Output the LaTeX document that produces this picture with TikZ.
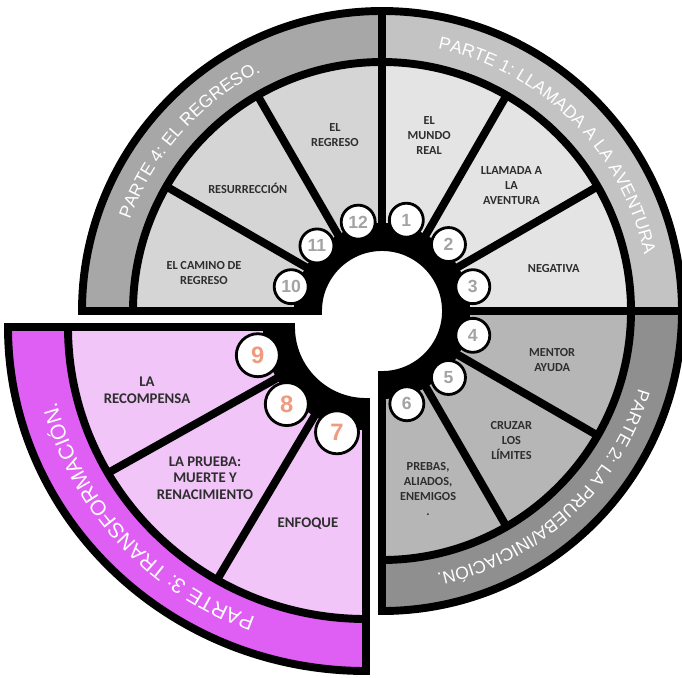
\documentclass[tikz,border=0pt]{standalone}
\usepackage{fontspec}
\setsansfont{Carlito}
\newfontfamily\ringsans{Liberation Sans}
\usetikzlibrary{decorations.text}
\definecolor{segone}{HTML}{E4E4E4}
\definecolor{ringone}{HTML}{C3C3C3}
\definecolor{segtwo}{HTML}{B6B6B6}
\definecolor{ringtwo}{HTML}{8F8F8F}
\definecolor{segfour}{HTML}{D5D5D5}
\definecolor{ringfour}{HTML}{A7A7A7}
\definecolor{segthree}{HTML}{F1C5F8}
\definecolor{ringthree}{HTML}{DF5EF3}
\definecolor{labeltext}{HTML}{2E2E2E}
\definecolor{numgray}{HTML}{A3A3A3}
\definecolor{numpeach}{HTML}{F09A7E}
\newcommand{\ringfont}{\ringsans\fontsize{10}{12}\selectfont\color{white}}
\newcommand{\bigringfont}{\ringsans\fontsize{12}{14}\selectfont\color{white}}

\begin{document}
\begin{tikzpicture}[x=0.02cm, y=0.02cm,
  rim/.style={line width=4.5pt, draw=black},
  spoke/.style={line width=4.5pt, draw=black},
  num/.style={circle, draw, line width=1.6pt, fill=white, minimum size=0.68cm, inner sep=0pt, font=\ringsans\bfseries\fontsize{10}{10}\selectfont, text=numgray},
  bignum/.style={num, minimum size=0.86cm, font=\ringsans\bfseries\fontsize{13.5}{13.5}\selectfont, text=numpeach},
  seg/.style={align=center, inner sep=1pt, font=\sffamily\bfseries\fontsize{7}{8.5}\selectfont, text=labeltext},
  bigseg/.style={seg, font=\sffamily\bfseries\fontsize{8.4}{9.4}\selectfont},
  parte/.style={decorate, decoration={text along path, text align=center, text={#1}}}
]
\useasboundingbox (-382,-366) rectangle (300,311);
\fill[white] (-382,-366) rectangle (300,311);

% partes 1, 2 y 4
\fill[segone] (0:64) -- (0:300) arc[start angle=0, end angle=90, radius=300] -- (90:64) arc[start angle=90, end angle=0, radius=64] -- cycle;
\fill[ringone] (0:249) -- (0:300) arc[start angle=0, end angle=90, radius=300] -- (90:249) arc[start angle=90, end angle=0, radius=249] -- cycle;
\fill[segtwo] (-90:64) -- (-90:300) arc[start angle=-90, end angle=0, radius=300] -- (0:64) arc[start angle=0, end angle=-90, radius=64] -- cycle;
\fill[ringtwo] (-90:249) -- (-90:300) arc[start angle=-90, end angle=0, radius=300] -- (0:249) arc[start angle=0, end angle=-90, radius=249] -- cycle;
\fill[segfour] (90:64) -- (90:300) arc[start angle=90, end angle=180, radius=300] -- (180:64) arc[start angle=180, end angle=90, radius=64] -- cycle;
\fill[ringfour] (90:249) -- (90:300) arc[start angle=90, end angle=180, radius=300] -- (180:249) arc[start angle=180, end angle=90, radius=249] -- cycle;
\fill (-90:64) -- (-90:88) arc[start angle=-90, end angle=180, radius=88] -- (180:64) arc[start angle=180, end angle=-90, radius=64] -- cycle;
\draw[rim] (0:64) -- (0:300) arc[start angle=0, end angle=90, radius=300] -- (90:64) arc[start angle=90, end angle=0, radius=64] -- cycle;
\draw[rim] (-90:64) -- (-90:300) arc[start angle=-90, end angle=0, radius=300] -- (0:64) arc[start angle=0, end angle=-90, radius=64] -- cycle;
\draw[rim] (90:64) -- (90:300) arc[start angle=90, end angle=180, radius=300] -- (180:64) arc[start angle=180, end angle=90, radius=64] -- cycle;
\draw[rim] (-90:249) arc[start angle=-90, end angle=180, radius=249];
\draw[spoke] (60:80) -- (60:249) (30:80) -- (30:249) (-30:80) -- (-30:249) (-60:80) -- (-60:249) (120:80) -- (120:249) (150:80) -- (150:249);

\node[num] (n1) at (75:94) {1};
\node[num] (n2) at (45:94) {2};
\node[num] (n3) at (15:94) {3};
\node[num] (n4) at (-15:94) {4};
\node[num] (n5) at (-45:94) {5};
\node[num] (n6) at (-75:96) {6};
\node[num] (n10) at (165:94) {10};
\node[num] (n11) at (135:92) {11};
\node[num] (n12) at (105:92) {12};

\node[seg] (mundo) at (75:182) {EL\\MUNDO\\REAL};
\node[seg] (llamada) at (44:180) {LLAMADA A\\LA\\AVENTURA};
\node[seg] (negativa) at (14:177) {NEGATIVA};
\node[seg] (mentor) at (-16:177) {MENTOR\\AYUDA};
\node[seg] (cruzar) at (-45:183) {CRUZAR\\LOS\\LÍMITES};
\node[seg] (pruebas) at (-75.5:184) {PREBAS,\\ALIADOS,\\ENEMIGOS\\.};
\node[seg] (elregreso) at (105:182) {EL\\REGRESO};
\node[seg] (resurreccion) at (137.5:182) {RESURRECCIÓN};
\node[seg] (camino) at (168:182) {EL CAMINO DE\\REGRESO};

\path[parte={|\ringfont|PARTE 1: LLAMADA A LA AVENTURA}] (85:268) arc[start angle=85, end angle=5, radius=268];
\path[parte={|\ringfont|PARTE 2: LA PRUEBA/INICIACIÓN.}] (-7.5:268) arc[start angle=-7.5, end angle=-87.5, radius=268];
\path[parte={|\ringfont|PARTE 4: EL REGRESO.}] (178.5:268) arc[start angle=178.5, end angle=98.5, radius=268];

% parte 3, separada
\begin{scope}[shift={(-16,-16)}]
\fill[segthree] (180:75) -- (180:358 and 344) arc[start angle=180, end angle=270, x radius=358, y radius=344] -- (270:75) arc[start angle=270, end angle=180, radius=75] -- cycle;
\fill[ringthree] (180:298 and 292) -- (180:358 and 344) arc[start angle=180, end angle=270, x radius=358, y radius=344] -- (270:298 and 292) arc[start angle=270, end angle=180, x radius=298, y radius=292] -- cycle;
\fill (180:75) -- (180:103) arc[start angle=180, end angle=270, radius=103] -- (270:75) arc[start angle=270, end angle=180, radius=75] -- cycle;
\draw[rim] (180:75) -- (180:358 and 344) arc[start angle=180, end angle=270, x radius=358, y radius=344] -- (270:75) arc[start angle=270, end angle=180, radius=75] -- cycle;
\draw[rim] (180:298 and 292) arc[start angle=180, end angle=270, x radius=298, y radius=292];
\draw[spoke] (210:90) -- (210:298 and 292) (240:90) -- (240:298 and 292);

\node[bignum] (n7) at (255:112 and 109) {7};
\node[bignum] (n8) at (225:112 and 109) {8};
\node[bignum] (n9) at (195:112 and 109) {9};

\node[bigseg] (recompensa) at (-219,-63) {LA\\RECOMPENSA};
\node[bigseg] (laprueba) at (-161,-151) {LA PRUEBA:\\MUERTE Y\\RENACIMIENTO};
\node[bigseg] (enfoque) at (-58,-197) {ENFOQUE};

\path[parte={|\bigringfont|PARTE 3: TRANSFORMACIÓN.}] (261.7:319 and 310) arc[start angle=261.7, end angle=181.7, x radius=319, y radius=310];
\end{scope}
\end{tikzpicture}
\end{document}
